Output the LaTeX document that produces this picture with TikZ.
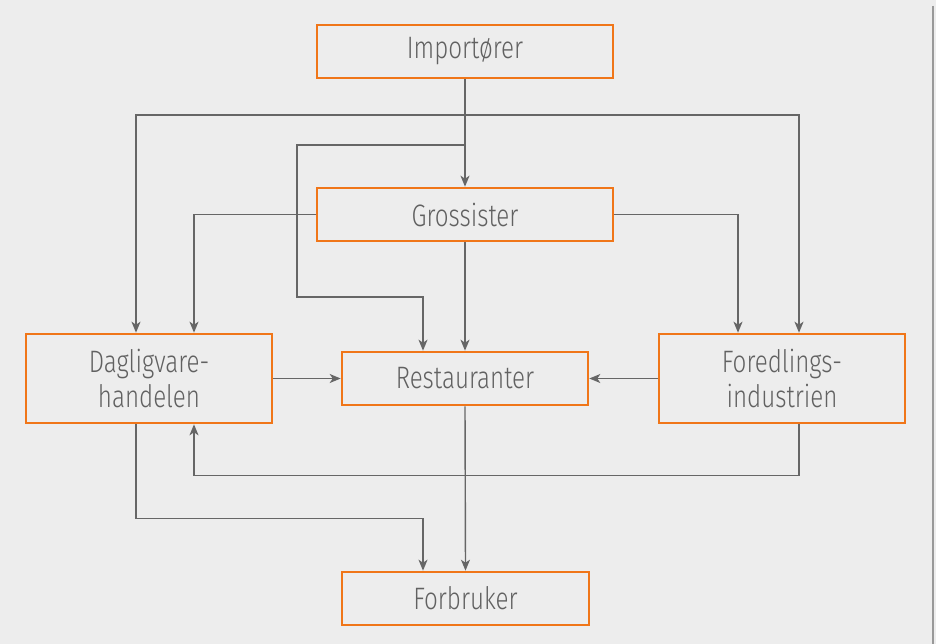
\documentclass[tikz,border=0pt]{standalone}
\usepackage{fontspec}
\setmainfont{Fira Sans Light}[FakeStretch=0.78]
\usetikzlibrary{arrows.meta}
\definecolor{bg}{HTML}{EDEDED}
\definecolor{boxorange}{HTML}{F07619}
\definecolor{linegray}{HTML}{666666}
\definecolor{textgray}{HTML}{616161}
\definecolor{edgegray}{HTML}{999999}
\tikzset{
  box/.style={draw=boxorange, line width=2.6pt, fill=bg, text=textgray,
    inner sep=0pt, align=center,
    font=\fontsize{31}{35}\selectfont},
  arr/.style={draw=linegray, line width=1.4pt,
    -{Stealth[length=11pt,width=9pt,inset=3pt]}},
  ln/.style={draw=linegray, line width=1.4pt}
}
\begin{document}
\begin{tikzpicture}[x=1pt,y=-1pt]
\fill[bg] (0,0) rectangle (936,644);
\useasboundingbox (0,0) rectangle (936,644);
\draw[edgegray, line width=2pt] (932.5,6) -- (932.5,644);

\node[box, minimum width=296pt, minimum height=53pt] (imp) at (465,51.5) {Importører};
\node[box, minimum width=296pt, minimum height=53pt] (gro) at (465,214.5) {Grossister};
\node[box, minimum width=246pt, minimum height=89pt] (dag) at (149,378.5) {Dagligvare-\\handelen};
\node[box, minimum width=246pt, minimum height=53pt] (res) at (465,378.5) {Restauranter};
\node[box, minimum width=246pt, minimum height=89pt] (fore) at (782,378.5) {Foredlings-\\industrien};
\node[box, minimum width=247pt, minimum height=53pt] (forb) at (465.5,598.5) {Forbruker};

\coordinate (h1) at (465,115);
\coordinate (h2) at (465,145);
\coordinate (c1) at (297,297);

\draw[arr] (imp.south) -- (gro.north);
\draw[arr] (h1) -| ([xshift=-13pt]dag.north);
\draw[arr] (h1) -| ([xshift=17pt]fore.north);
\draw[arr] (h2) -| (c1) -| ([xshift=-42pt]res.north);

\draw[arr] (gro.west) -| ([xshift=45pt]dag.north);
\draw[arr] (gro.east) -| ([xshift=-44pt]fore.north);
\draw[arr] (gro.south) -- (res.north);

\draw[arr] (dag.east) -- (res.west);
\draw[arr] (fore.west) -- (res.east);

\draw[arr] ([xshift=17pt]fore.south) -- ++(0,51) -| ([xshift=45pt]dag.south);
\draw[arr] ([xshift=-13pt]dag.south) -- ++(0,94) -| ([xshift=-42.5pt]forb.north);
\draw[arr] (res.south) -- (forb.north);
\end{tikzpicture}
\end{document}
